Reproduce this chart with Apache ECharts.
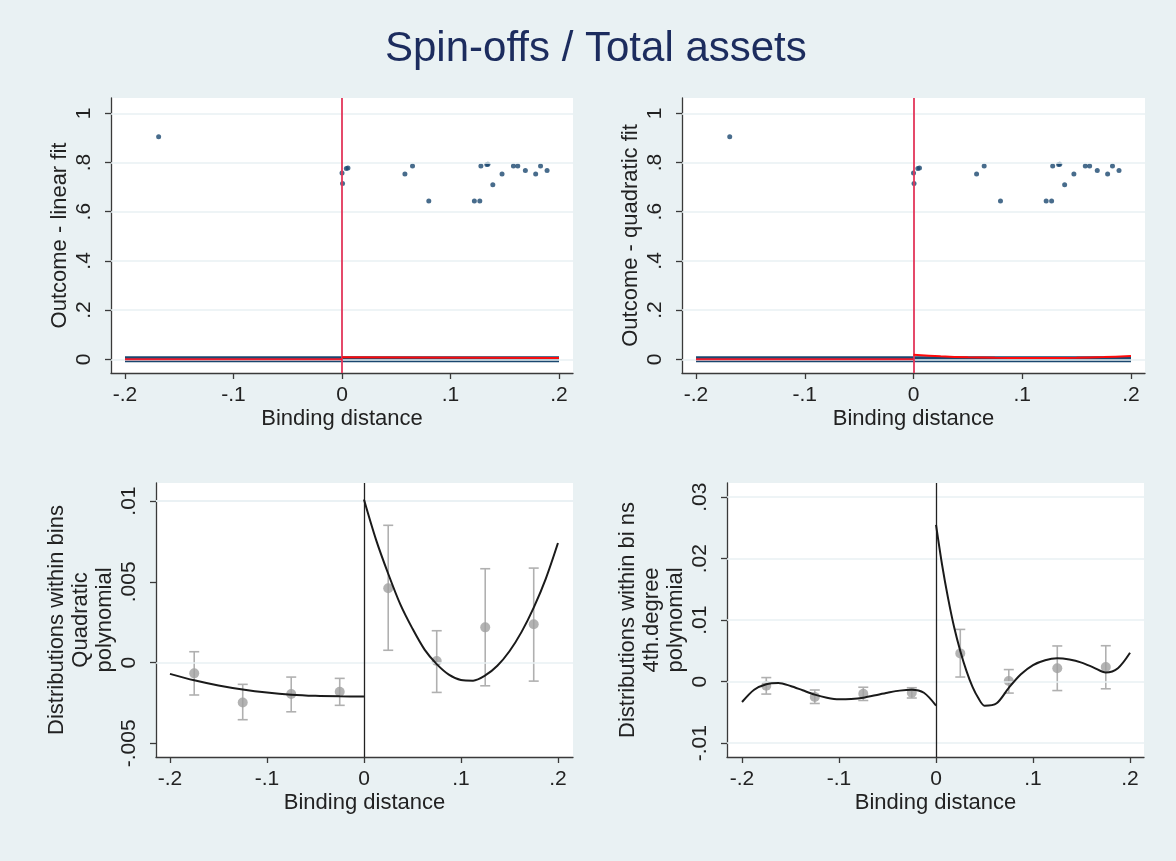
<!DOCTYPE html>
<html>
<head>
<meta charset="utf-8">
<script src="https://cdn.jsdelivr.net/npm/echarts@6/dist/echarts.min.js"></script>
<style>
html,body{margin:0;padding:0;background:#e9f1f3;}
#chart{width:1176px;height:861px;}
</style>
</head>
<body>
<div id="chart"></div>
<script>
// ---- tick labels ----
const xTicks = [-0.2, -0.1, 0, 0.1, 0.2];
const yTicksTop = [0, 0.2, 0.4, 0.6, 0.8, 1];
const yTicksQuad = [-0.005, 0, 0.005, 0.01];
const yTicks4th = [-0.01, 0, 0.01, 0.02, 0.03];

// ---- top panels: outcome observations ----
const outcomeX = [-0.169, 0.000, 0.0005, 0.004, 0.0055, 0.058, 0.065, 0.080, 0.122, 0.127, 0.128, 0.1335, 0.1345, 0.139, 0.1475, 0.158, 0.162, 0.169, 0.1785, 0.183, 0.189];
const outcomeY = [0.905, 0.757, 0.715, 0.776, 0.778, 0.753, 0.786, 0.643, 0.643, 0.643, 0.786, 0.792, 0.793, 0.710, 0.753, 0.786, 0.786, 0.767, 0.753, 0.786, 0.767];
// dense band of zero outcomes spanning the whole window
const zeroBandX = [-0.2, 0.2];
const zeroBandY = [0, 0];

// linear fit
const linLeftX = [-0.2, 0];
const linLeftY = [0, 0];
const linRightX = [0, 0.2];
const linRightY = [0.008, 0.005];
// quadratic fit
const qfLeftX = [-0.2, -0.1, 0];
const qfLeftY = [0, 0, 0];
const qfRightX = [0, 0.025, 0.05, 0.075, 0.1, 0.125, 0.15, 0.175, 0.2];
const qfRightY = [0.018, 0.012, 0.008, 0.006, 0.005, 0.005, 0.006, 0.009, 0.013];

// ---- bottom panels: bin means and confidence intervals ----
const binX = [-0.175, -0.125, -0.075, -0.025, 0.025, 0.075, 0.125, 0.175];
const binMean = [-0.00067, -0.00247, -0.00195, -0.00181, 0.0046, 0.0001, 0.00218, 0.00237];
const binLo = [-0.00201, -0.00354, -0.00305, -0.00265, 0.00076, -0.00185, -0.00144, -0.00115];
const binHi = [0.00067, -0.00135, -0.0009, -0.00098, 0.0085, 0.00197, 0.00581, 0.00585];

// quadratic polynomial
const quadLeftX = [-0.2, -0.175, -0.15, -0.125, -0.1, -0.075, -0.05, -0.025, 0];
const quadLeftY = [-0.0007, -0.0011, -0.00142, -0.00167, -0.00186, -0.00199, -0.00206, -0.00209, -0.0021];
const quadRightX = [0, 0.0125, 0.025, 0.0375, 0.05, 0.0625, 0.075, 0.0875, 0.1, 0.1125, 0.125, 0.1375, 0.15, 0.1625, 0.175, 0.1875, 0.2];
const quadRightY = [0.0101, 0.0076, 0.0055, 0.0036, 0.0021, 0.0008, -0.0001, -0.00075, -0.00108, -0.00112, -0.0008, -0.0002, 0.0007, 0.0019, 0.0034, 0.0052, 0.0074];

// 4th degree polynomial
const q4LeftX = [-0.2, -0.1875, -0.175, -0.1625, -0.15, -0.1375, -0.125, -0.1125, -0.1, -0.0875, -0.075, -0.0625, -0.05, -0.0375, -0.025, -0.0125, 0];
const q4LeftY = [-0.0033, -0.0013, -0.0004, -0.0002, -0.0007, -0.0014, -0.0021, -0.0026, -0.00285, -0.0028, -0.0026, -0.0022, -0.0018, -0.00145, -0.0013, -0.0018, -0.0039];
const q4RightX = [0, 0.00625, 0.0125, 0.01875, 0.025, 0.03125, 0.0375, 0.04375, 0.05, 0.0625, 0.075, 0.0875, 0.1, 0.1125, 0.125, 0.1375, 0.15, 0.1625, 0.175, 0.1875, 0.2];
const q4RightY = [0.0255, 0.019, 0.0135, 0.0088, 0.0050, 0.0018, -0.0008, -0.0027, -0.0039, -0.0035, -0.0010, 0.0012, 0.0027, 0.0035, 0.0038, 0.0036, 0.0031, 0.0023, 0.0015, 0.0022, 0.0047];

// ---- texts ----
const titleText = 'Spin-offs / Total assets';
const xName = 'Binding distance';
const yNames = ['Outcome - linear fit', 'Outcome - quadratic fit',
  'Distributions within bins\nQuadratic\npolynomial',
  'Distributions within bi ns\n4th.degree\npolynomial'];

// ---- helpers ----
const FONT = 'Liberation Sans, Arial, sans-serif';
const zip = (a, b) => a.map((v, i) => [v, b[i]]);
const fmt = v => String(Math.round(v * 1e6) / 1e6).replace(/^(-?)0\./, '$1.');
const BG = '#e9f1f3';
const NAVY = '#1a476f';
const AXIS = '#3a3a3a';

const grids = [
  {left: 111, top: 98, width: 462, height: 275},
  {left: 682, top: 98, width: 463, height: 275},
  {left: 156, top: 483, width: 417, height: 274},
  {left: 727, top: 483, width: 417, height: 274}
];
const xRanges = [[-0.2129, 0.2129], [-0.2129, 0.2129], [-0.2144, 0.2155], [-0.2155, 0.2144]];
const yRanges = [[-0.0557, 1.0622], [-0.0557, 1.0622], [-0.00585, 0.01112], [-0.01224, 0.0323]];
const yTickSets = [yTicksTop, yTicksTop, yTicksQuad, yTicks4th];

const xAxes = grids.map((g, i) => ({
  type: 'value', gridIndex: i, min: xRanges[i][0], max: xRanges[i][1],
  name: xName, nameLocation: 'middle', nameGap: 35,
  nameTextStyle: {fontFamily: FONT, fontSize: 22, color: '#222'},
  axisLine: {show: true, onZero: false, lineStyle: {color: AXIS, width: 1.3}},
  axisTick: {show: true, length: 6, customValues: xTicks, lineStyle: {color: AXIS, width: 1.3}},
  axisLabel: {customValues: xTicks, formatter: fmt, fontFamily: FONT, fontSize: 21, color: '#222', margin: 12},
  splitLine: {show: false}
}));
const yAxes = grids.map((g, i) => ({
  type: 'value', gridIndex: i, min: yRanges[i][0], max: yRanges[i][1],
  name: yNames[i], nameLocation: 'middle', nameGap: 39,
  nameTextStyle: {fontFamily: FONT, fontSize: 22, color: '#222', lineHeight: 24},
  axisLine: {show: true, onZero: false, lineStyle: {color: AXIS, width: 1.3}},
  axisTick: {show: true, length: 6, customValues: yTickSets[i], lineStyle: {color: AXIS, width: 1.3}},
  axisLabel: {customValues: yTickSets[i], formatter: fmt, rotate: 90, fontFamily: FONT, fontSize: 21, color: '#222', margin: 16},
  splitLine: {show: false}
}));

function gridLines(i) {
  return {
    type: 'line', xAxisIndex: i, yAxisIndex: i, data: [], z: 1, silent: true,
    markLine: {silent: true, symbol: 'none', label: {show: false}, animation: false,
      lineStyle: {color: BG, width: 1.5, type: 'solid'},
      data: yTickSets[i].map(v => ({yAxis: v}))}
  };
}
function vline(i, color, width) {
  return {
    type: 'line', xAxisIndex: i, yAxisIndex: i, data: [], z: 6, silent: true,
    markLine: {silent: true, symbol: 'none', label: {show: false}, animation: false,
      lineStyle: {color: color, width: width, type: 'solid'},
      data: [{xAxis: 0}]}
  };
}
function lineSeries(i, xs, ys, color, width, z, smooth) {
  return {type: 'line', xAxisIndex: i, yAxisIndex: i, data: zip(xs, ys), showSymbol: false,
    smooth: smooth || false, z: z, animation: false, silent: true,
    lineStyle: {color: color, width: width, cap: 'butt'}};
}
function errorBars(i) {
  return {
    type: 'custom', xAxisIndex: i, yAxisIndex: i, z: 3, animation: false, silent: true,
    data: binX.map((x, k) => [x, binLo[k], binHi[k]]),
    encode: {x: 0, y: [1, 2]},
    renderItem: function (params, api) {
      const lo = api.coord([api.value(0), api.value(1)]);
      const hi = api.coord([api.value(0), api.value(2)]);
      const w = 5;
      const st = {stroke: '#b0b0b0', lineWidth: 1.6};
      return {type: 'group', children: [
        {type: 'line', shape: {x1: lo[0], y1: lo[1], x2: hi[0], y2: hi[1]}, style: st},
        {type: 'line', shape: {x1: lo[0] - w, y1: lo[1], x2: lo[0] + w, y2: lo[1]}, style: st},
        {type: 'line', shape: {x1: hi[0] - w, y1: hi[1], x2: hi[0] + w, y2: hi[1]}, style: st}
      ]};
    }
  };
}
function binPoints(i) {
  return {type: 'scatter', xAxisIndex: i, yAxisIndex: i, data: zip(binX, binMean), symbol: 'circle',
    symbolSize: 10, z: 4, animation: false, silent: true, itemStyle: {color: '#a0a0a0'}};
}
function topScatter(i) {
  return {type: 'scatter', xAxisIndex: i, yAxisIndex: i, data: zip(outcomeX, outcomeY), symbol: 'circle',
    symbolSize: 5, z: 4, animation: false, silent: true, itemStyle: {color: NAVY}};
}

const series = [];
for (let i = 0; i < 4; i++) series.push(gridLines(i));
// top-left
series.push(topScatter(0));
series.push(lineSeries(0, zeroBandX, zeroBandY, NAVY, 6, 3));
series.push(lineSeries(0, linLeftX, linLeftY, '#ee1c2e', 2, 5));
series.push(lineSeries(0, linRightX, linRightY, '#ff0a0a', 2, 5));
series.push(vline(0, '#e3365a', 1.8));
// top-right
series.push(topScatter(1));
series.push(lineSeries(1, zeroBandX, zeroBandY, NAVY, 6, 3));
series.push(lineSeries(1, qfLeftX, qfLeftY, '#ee1c2e', 2, 5, 0.3));
series.push(lineSeries(1, qfRightX, qfRightY, '#ff0a0a', 2, 5, 0.3));
series.push(vline(1, '#e3365a', 1.8));
// bottom-left
series.push(errorBars(2));
series.push(binPoints(2));
series.push(lineSeries(2, quadLeftX, quadLeftY, '#1a1a1a', 2, 5, 0.3));
series.push(lineSeries(2, quadRightX, quadRightY, '#1a1a1a', 2, 5, 0.3));
series.push(vline(2, '#222', 1.3));
// bottom-right
series.push(errorBars(3));
series.push(binPoints(3));
series.push(lineSeries(3, q4LeftX, q4LeftY, '#1a1a1a', 2, 5, 0.3));
series.push(lineSeries(3, q4RightX, q4RightY, '#1a1a1a', 2, 5, 0.3));
series.push(vline(3, '#222', 1.3));

const chart = echarts.init(document.getElementById('chart'), null, {renderer: 'canvas'});
chart.setOption({
  backgroundColor: BG,
  animation: false,
  title: {text: titleText, left: 380, top: 23,
    textStyle: {fontFamily: FONT, fontSize: 42, fontWeight: 'normal', color: '#1c2c5e'}},
  grid: grids.map(g => Object.assign({show: true, backgroundColor: '#ffffff', borderWidth: 0}, g)),
  xAxis: xAxes,
  yAxis: yAxes,
  series: series
});
</script>
</body>
</html>
